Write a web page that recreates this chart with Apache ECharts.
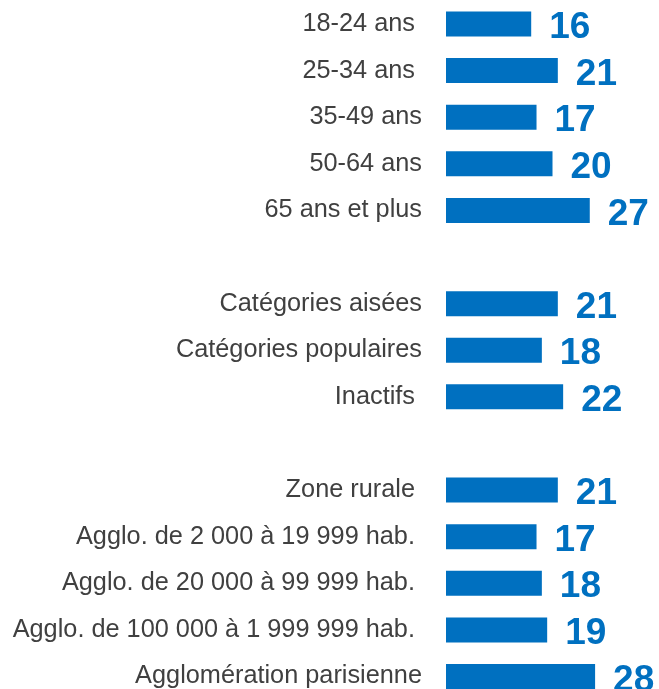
<!DOCTYPE html>
<html>
<head>
<meta charset="utf-8">
<script src="https://cdn.jsdelivr.net/npm/echarts@6/dist/echarts.min.js"></script>
<style>
  html, body { margin: 0; padding: 0; background: #fff; }
  #main { width: 659px; height: 689px; }
</style>
</head>
<body>
<div id="main"></div>
<script>
  // categories (empty strings = gaps between groups; trailing spaces as in the source)
  var categories = [
    '18-24 ans ', '25-34 ans ', '35-49 ans', '50-64 ans', '65 ans et plus',
    '',
    'Catégories aisées', 'Catégories populaires', 'Inactifs ',
    '',
    'Zone rurale ', 'Agglo. de 2 000 à 19 999 hab. ', 'Agglo. de 20 000 à 99 999 hab. ',
    'Agglo. de 100 000 à 1 999 999 hab. ', 'Agglomération parisienne'
  ]
  var values = [16, 21, 17, 20, 27, '-', 21, 18, 22, '-', 21, 17, 18, 19, 28]

  var blue = '#0070C0'
  var chart = echarts.init(document.getElementById('main'))
  chart.setOption({
    animation: false,
    grid: {
      left: 446,
      top: 24,
      width: 213.6,
      height: 653.1
    },
    xAxis: {
      type: 'value',
      min: 0,
      max: 40,
      show: false
    },
    yAxis: {
      type: 'category',
      inverse: true,
      boundaryGap: false,
      data: categories,
      axisLine: { show: false },
      axisTick: { show: false },
      splitLine: { show: false },
      axisLabel: {
        margin: 24,
        fontSize: 25.3,
        color: '#404040',
        fontFamily: 'Liberation Sans'
      }
    },
    series: [{
      type: 'bar',
      data: values,
      barWidth: 25,
      clip: false,
      itemStyle: { color: blue },
      label: {
        show: true,
        position: 'right',
        distance: 18,
        offset: [0, 4],
        fontSize: 37,
        fontWeight: 'bold',
        color: blue,
        fontFamily: 'Liberation Sans'
      }
    }]
  })
</script>
</body>
</html>
